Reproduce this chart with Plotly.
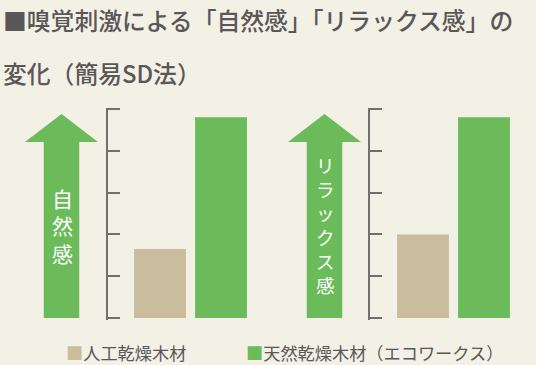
import plotly.graph_objects as go

# ---- data ----
categories = ["人工乾燥木材", "天然乾燥木材（エコワークス）"]
panel_labels = ["自然感", "リラックス感"]
natural_values = [1.65, 4.8]
relax_values = [2.0, 4.8]
tick_values = [0, 1, 2, 3, 4, 5]
title_line1 = "■嗅覚刺激による「自然感」「リラックス感」の"
title_line2 = "変化（簡易SD法）"

# ---- styling ----
W, H = 536, 365
BG = "#f3f0e6"
GREEN = "#6bbb5a"
BEIGE = "#c9bd9e"
TEXT = "#595757"
AXIS = "#707070"
FONT = "Noto Sans CJK JP, Noto Sans, sans-serif"
bar_colors = [BEIGE, GREEN]


def px(x):
    return x / W


def py(y):
    return 1 - y / H


fig = go.Figure()

fig.add_trace(go.Bar(x=categories, y=natural_values, marker=dict(color=bar_colors, line=dict(width=0)),
                     width=0.85, xaxis="x", yaxis="y", showlegend=False, hoverinfo="skip"))
fig.add_trace(go.Bar(x=categories, y=relax_values, marker=dict(color=bar_colors, line=dict(width=0)),
                     width=0.85, xaxis="x2", yaxis="y2", showlegend=False, hoverinfo="skip"))

cat_step = 61.0
unit_px = (318 - 109) / 5.0
pad = 1.5 / unit_px
yax = dict(range=[-pad, 5 + pad], domain=[py(319.5), py(107.5)], showline=True, linecolor=AXIS, linewidth=2,
           ticks="inside", ticklen=12, tickwidth=2, tickcolor=AXIS, tickvals=tick_values,
           showticklabels=False, showgrid=False, zeroline=False, fixedrange=True)

fig.update_layout(
    width=W, height=H, margin=dict(l=0, r=0, t=0, b=0),
    paper_bgcolor=BG, plot_bgcolor="rgba(0,0,0,0)",
    font=dict(family=FONT, color=TEXT),
    xaxis=dict(domain=[px(108), px(251.5)], range=[-0.5 - 21.5 / cat_step, 1.5], visible=False,
               type="category", fixedrange=True),
    yaxis=dict(anchor="x", **yax),
    xaxis2=dict(domain=[px(370), px(514.5)], range=[-0.5 - 22.5 / cat_step, 1.5], visible=False,
                type="category", fixedrange=True),
    yaxis2=dict(anchor="x2", **yax),
)


def arrow_path(cx, half_shaft, half_head, tip, base, bottom):
    pts = [(cx, tip), (cx + half_head, base), (cx + half_shaft, base), (cx + half_shaft, bottom),
           (cx - half_shaft, bottom), (cx - half_shaft, base), (cx - half_head, base)]
    return "M " + " L ".join(f"{px(x):.5f},{py(y):.5f}" for x, y in pts) + " Z"


for cx in (61.5, 324.5):
    fig.add_shape(type="path", xref="paper", yref="paper",
                  path=arrow_path(cx, 17.75, 36.5, 114, 142, 318),
                  fillcolor=GREEN, line=dict(width=0), layer="below")

# vertical labels inside arrows
fig.add_annotation(x=px(62), y=py(225), xref="paper", yref="paper", showarrow=False,
                   text="<br>".join(panel_labels[0]), font=dict(size=21, color="white", family=FONT),
                   xanchor="center", yanchor="middle")
fig.add_annotation(x=px(325), y=py(225), xref="paper", yref="paper", showarrow=False,
                   text="<br>".join(panel_labels[1]),
                   font=dict(size=18.5, color="white", family=FONT),
                   xanchor="center", yanchor="middle")

# title
fig.add_annotation(x=px(1), y=py(19), xref="paper", yref="paper", showarrow=False,
                   text=title_line1, font=dict(size=23.8, color=TEXT, family=FONT, weight=500),
                   xanchor="left", yanchor="middle")
fig.add_annotation(x=px(1), y=py(73), xref="paper", yref="paper", showarrow=False,
                   text=title_line2, font=dict(size=23.8, color=TEXT, family=FONT, weight=500),
                   xanchor="left", yanchor="middle")

# legend
for lx, name, col in zip((64, 244), categories, bar_colors):
    fig.add_annotation(x=px(lx), y=py(352), xref="paper", yref="paper", showarrow=False,
                       text=f'<span style="color:{col}">■</span>{name}',
                       font=dict(size=17.2, color=TEXT, family=FONT),
                       xanchor="left", yanchor="middle")

fig.write_html("out.html", config={"displayModeBar": False, "staticPlot": True},
               post_script="document.body.style.margin='0';document.body.style.overflow='hidden';")
